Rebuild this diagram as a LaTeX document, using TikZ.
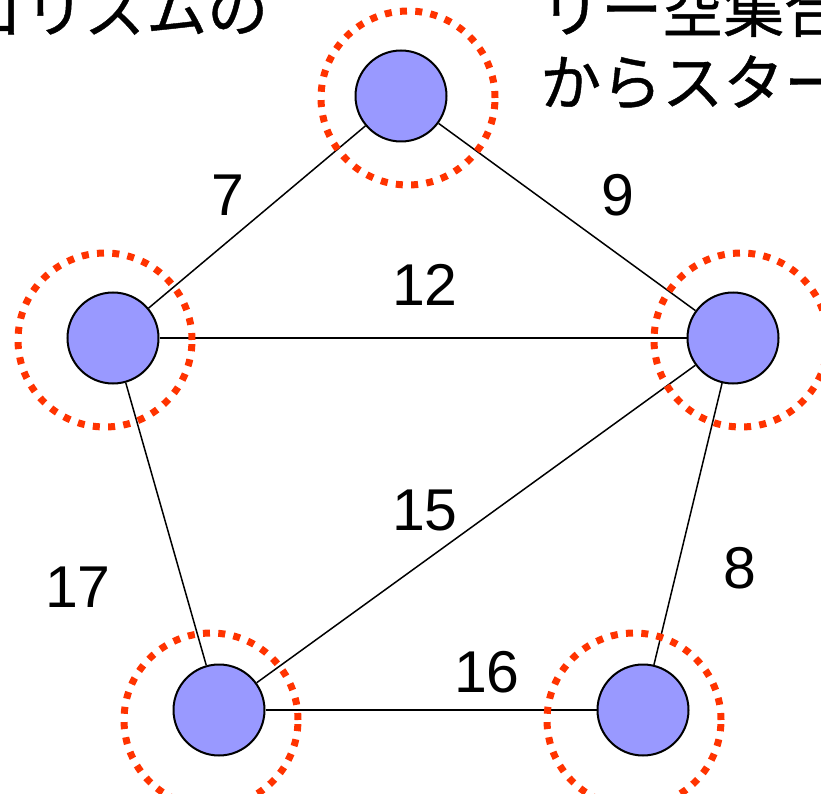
\documentclass[tikz,border=0pt]{standalone}
\usepackage{fontspec}
\setmainfont{Liberation Sans}
\newfontfamily\jpfont[FakeBold=0.7]{Noto Sans CJK JP}
\usetikzlibrary{positioning,calc}
\definecolor{nodeblue}{RGB}{153,153,255}
\definecolor{selred}{RGB}{255,51,0}
\tikzset{
    vtx/.style={circle,draw,line width=2pt,fill=nodeblue,minimum size=91pt,inner sep=0pt},
    sel/.style={draw=selred,line width=7pt,dash pattern=on 7pt off 8.3pt},
    wt/.style={font=\fontsize{59}{60}\selectfont,inner sep=0pt},
    jp/.style={font=\jpfont\fontsize{61}{73}\selectfont,inner sep=0pt,anchor=base west}
}

\begin{document}
\begin{tikzpicture}[x=1pt,y=-1pt]
    \useasboundingbox (0,0) rectangle (821,794);
    % captions (cut by the page edge)
    \node[jp] (capL) at (-37,32) {ゴリズムの};
    \node[jp] (capR1) at (540,32) {リー空集合};
    \node[jp] (capR2) at (540,105) {からスター};
    % vertices
    \node[vtx] (t) at (401,96) {};
    \node[vtx] (l) at (113,338) {};
    \node[vtx] (r) at (733,338) {};
    \node[vtx] (bl) at (219,710) {};
    \node[vtx] (br) at (643,710) {};
    % edges
    \draw[line width=1.5pt] (t) -- (l);
    \draw[line width=1.5pt] (t) -- (r);
    \draw[line width=1.5pt] (l) -- (r);
    \draw[line width=1.5pt] (l) -- (bl);
    \draw[line width=1.5pt] (r) -- (bl);
    \draw[line width=1.5pt] (r) -- (br);
    \draw[line width=1.5pt] (bl) -- (br);
    % weights
    \node[wt] (w7) at (228,195) {7};
    \node[wt] (w9) at (618,195) {9};
    \node[wt] (w12) at (425,285) {12};
    \node[wt] (w15) at (425,510) {15};
    \node[wt] (w17) at (78,587) {17};
    \node[wt] (w8) at (740,568) {8};
    \node[wt] (w16) at (487,672) {16};
    % selected vertices
    \draw[sel] (408,98) circle (87pt);
    \draw[sel] (105,340) circle (87pt);
    \draw[sel] (741,340) circle (87pt);
    \draw[sel] (211,720) circle (87pt);
    \draw[sel] (634,720) circle (87pt);
\end{tikzpicture}
\end{document}
